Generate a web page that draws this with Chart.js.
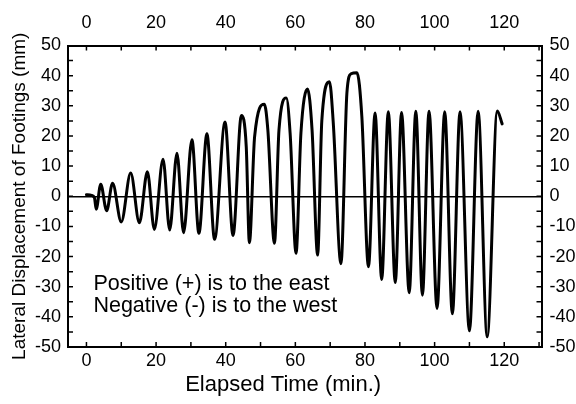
<!DOCTYPE html>
<html><head><meta charset="utf-8">
<script src="https://cdn.jsdelivr.net/npm/chart.js@4/dist/chart.umd.min.js"></script>
<style>html,body{margin:0;padding:0;background:#fff}#wrap{width:576px;height:404px}</style>
</head><body><div id="wrap"><canvas id="c" width="576" height="404"></canvas></div>
<script>
// Elapsed time (min.) of readable turning points of the trace
const timeMin = [
  0, 1.5, 2.3, 2.8, 4.1, 5.8, 7.5, 10.0, 12.7, 15.2, 17.5, 19.5, 22.0, 23.9, 26.0, 27.9,
  30.3, 32.3, 34.6, 36.8, 39.8, 42.1, 44.5, 45.9, 46.8, 48.3, 51.1, 52.1, 54.0, 55.3, 57.4,
  58.5, 60.2, 61.6, 63.5, 64.8, 66.4, 67.6, 69.8, 70.9, 73.1, 74.8, 76.0, 77.7, 79.1, 81.0,
  82.9, 84.8, 86.7, 88.7, 90.5, 92.7, 94.6, 96.5, 98.4, 100.7, 102.9, 105.1, 107.3, 110.0,
  112.5, 115.1, 118.0, 119.4
];
// Lateral displacement of footings (mm)
const displacementMm = [
  0.5, 0.3, -0.5, -4.3, 4.0, -4.8, 4.3, -8.5, 7.7, -8.8, 8.1, -11.0, 12.3, -11.2, 14.3, -12.1,
  18.7, -12.3, 20.7, -14.3, 24.6, -13.0, 26.8, 16.4, -15.4, 19.8, 30.5, 22.0, -15.6, 22.0, 32.6,
  20.9, -18.9, 20.9, 35.6, 22.0, -19.5, 25.0, 38.0, 24.2, -22.4, 34.1, 40.6, 41.0, 26.4, -23.4,
  27.6, -27.6, 28.0, -28.6, 27.8, -32.0, 28.2, -32.8, 28.2, -37.2, 28.0, -39.0, 28.0, -44.6,
  28.2, -46.6, 28.3, 24.0
];
const xTickValues = [0, 20, 40, 60, 80, 100, 120];
const yTickValues = [-50, -40, -30, -20, -10, 0, 10, 20, 30, 40, 50];
const xTitle = 'Elapsed Time (min.)';
const yTitle = 'Lateral Displacement of Footings (mm)';
const noteLines = ['Positive (+) is to the east', 'Negative (-) is to the west'];

const FONT = '"Liberation Sans", Arial, Helvetica, sans-serif';
const tickFont = {family: FONT, size: 18, lineHeight: 1.2};
const titleFont = {family: FONT, size: 19, lineHeight: 1.2};

function setTicks(values) {
  return function (scale) { scale.ticks = values.map(v => ({value: v})); };
}

const innerTicks = {
  id: 'innerTicks',
  afterDatasetsDraw(chart) {
    const {ctx, chartArea: a, scales} = chart;
    const len = 5;
    ctx.save();
    ctx.strokeStyle = '#000';
    ctx.lineWidth = 1.5;
    ctx.beginPath();
    const xs = scales.x;
    for (let v = 0; v <= xs.max; v += 10) {
      const px = xs.getPixelForValue(v);
      if (px <= a.left + 1 || px >= a.right - 1) continue;
      ctx.moveTo(px, a.bottom); ctx.lineTo(px, a.bottom - len);
      ctx.moveTo(px, a.top); ctx.lineTo(px, a.top + len);
    }
    const ys = scales.y;
    for (let v = -45; v <= 45; v += 5) {
      const py = ys.getPixelForValue(v);
      ctx.moveTo(a.left, py); ctx.lineTo(a.left + len, py);
      ctx.moveTo(a.right, py); ctx.lineTo(a.right - len, py);
    }
    ctx.stroke();
    ctx.fillStyle = '#000';
    // note text anchored in data coordinates
    ctx.font = '21.5px ' + FONT;
    ctx.textAlign = 'left';
    ctx.textBaseline = 'alphabetic';
    const nx = xs.getPixelForValue(2.0);
    ctx.fillText(noteLines[0], nx, ys.getPixelForValue(-31.1));
    ctx.fillText(noteLines[1], nx, ys.getPixelForValue(-38.5));
    // x axis title
    ctx.font = '22px ' + FONT;
    ctx.textAlign = 'center';
    ctx.textBaseline = 'middle';
    ctx.fillText(xTitle, xs.getPixelForValue(56.5), a.bottom + 38);
    ctx.restore();
  }
};

const border = {display: true, color: '#000', width: 2};

new Chart(document.getElementById('c'), {
  type: 'line',
  data: {
    datasets: [{
      data: timeMin.map((t, i) => ({x: t, y: displacementMm[i]})),
      borderColor: '#000',
      borderWidth: 3,
      pointRadius: 0,
      cubicInterpolationMode: 'monotone',
      borderJoinStyle: 'round',
      borderCapStyle: 'round',
      fill: false
    }]
  },
  options: {
    responsive: false,
    animation: false,
    devicePixelRatio: 1,
    layout: {padding: 0},
    plugins: {legend: {display: false}, tooltip: {enabled: false}},
    scales: {
      x: {
        type: 'linear', position: 'bottom', min: -5.3, max: 130.7,
        afterBuildTicks: setTicks(xTickValues),
        afterFit(s) { s.height = 57; },
        ticks: {color: '#000', font: tickFont, padding: 3, maxRotation: 0, autoSkip: false},
        grid: {drawOnChartArea: false, drawTicks: false},
        border
      },
      x2: {
        type: 'linear', position: 'top', min: -5.3, max: 130.7,
        afterBuildTicks: setTicks(xTickValues),
        afterFit(s) { s.height = 45.5; },
        ticks: {color: '#000', font: tickFont, padding: 12, maxRotation: 0, autoSkip: false},
        grid: {drawOnChartArea: false, drawTicks: false},
        border
      },
      y: {
        type: 'linear', position: 'left', min: -50, max: 50,
        afterBuildTicks: setTicks(yTickValues),
        afterFit(s) { s.width = 68; },
        ticks: {color: '#000', font: tickFont, padding: 7, autoSkip: false},
        grid: {
          drawTicks: false,
          color: c => (c.tick && c.tick.value === 0) ? '#000' : 'rgba(0,0,0,0)',
          lineWidth: 1.5
        },
        border,
        title: {display: true, text: yTitle, color: '#000', font: titleFont, padding: {top: 8, bottom: 0}}
      },
      y2: {
        type: 'linear', position: 'right', min: -50, max: 50,
        afterBuildTicks: setTicks(yTickValues),
        afterFit(s) { s.width = 34.5; },
        ticks: {color: '#000', font: tickFont, padding: 8, autoSkip: false},
        grid: {drawOnChartArea: false, drawTicks: false},
        border
      }
    }
  },
  plugins: [innerTicks]
});
</script>
</body></html>
